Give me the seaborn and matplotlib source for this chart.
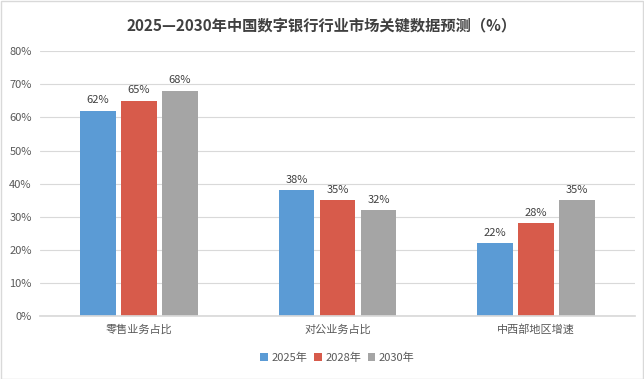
import pandas as pd
import matplotlib.pyplot as plt
import seaborn as sns
from matplotlib.ticker import FuncFormatter

categories = ["零售业务占比", "对公业务占比", "中西部地区增速"]
years = ["2025年", "2028年", "2030年"]
v2025 = [62, 38, 22]
v2028 = [65, 35, 28]
v2030 = [68, 32, 35]
colors = ["#5B9BD5", "#D75B4B", "#A5A5A5"]

rows = []
for year, vals in zip(years, [v2025, v2028, v2030]):
    for cat, v in zip(categories, vals):
        rows.append({"类别": cat, "年份": year, "值": v})
df = pd.DataFrame(rows)

sns.set_theme(style="white")
plt.rcParams["font.family"] = ["Noto Sans CJK SC", "DejaVu Sans"]

fig = plt.figure(figsize=(6.44, 3.79), dpi=100)
ax = fig.add_axes([0.062, 0.166, 0.924, 0.699])

sns.barplot(data=df, x="类别", y="值", hue="年份", palette=colors, saturation=1,
            width=0.62, gap=0.13, linewidth=0, ax=ax, legend=True)

for cont in ax.containers:
    ax.bar_label(cont, labels=[f"{int(v)}%" for v in cont.datavalues],
                 padding=4, fontsize=8, color="#404040")

ax.set_ylim(0, 80)
ax.set_yticks(range(0, 81, 10))
ax.yaxis.set_major_formatter(FuncFormatter(lambda v, p: f"{int(v)}%"))
ax.grid(axis="y", color="#D9D9D9", linewidth=0.8)
ax.set_axisbelow(True)
for s in ["top", "right", "left"]:
    ax.spines[s].set_visible(False)
ax.spines["bottom"].set_color("#D9D9D9")
ax.tick_params(axis="both", length=0, labelsize=8, colors="#595959", pad=6)
ax.set_xlabel("")
ax.set_ylabel("")

ax.legend(loc="upper center", bbox_to_anchor=(0.5, -0.1), ncol=3, frameon=False,
          fontsize=8, handlelength=0.7, handleheight=0.7, handletextpad=0.3,
          columnspacing=0.6, labelcolor="#595959")

fig.suptitle("2025—2030年中国数字银行行业市场关键数据预测（%）", y=0.955,
             fontsize=11, fontweight="bold", color="#404040")

fig.patches.append(plt.Rectangle((0.001, 0.001), 0.997, 0.997, transform=fig.transFigure,
                                 fill=False, edgecolor="#D9D9D9", linewidth=1))

fig.savefig("out.png", dpi=100)
